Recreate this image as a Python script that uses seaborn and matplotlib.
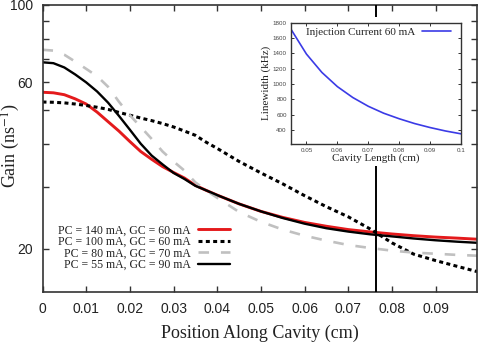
#!/usr/bin/env python3
"""
Gain profile along the cavity for four PC/GC current settings,
with an inset of linewidth vs cavity length.
"""
import pandas as pd
import matplotlib
matplotlib.use("Agg")
import matplotlib.pyplot as plt
import seaborn as sns
from matplotlib.patches import Rectangle
from matplotlib.ticker import FixedLocator, NullFormatter

# ---- main panel data ----
position = [0, 0.0025, 0.005, 0.0075, 0.01, 0.0125, 0.015, 0.0175, 0.02, 0.0225,
            0.025, 0.0275, 0.03, 0.0325, 0.035, 0.0375, 0.04, 0.045, 0.05, 0.055,
            0.06, 0.065, 0.07, 0.075, 0.08, 0.085, 0.09, 0.095, 0.0995]
gain_pc140_gc60 = [56.2, 56.0, 55.3, 53.8, 52.0, 49.3, 46.3, 43.5, 40.6, 38.0,
                   36.1, 34.4, 33.1, 31.9, 30.4, 29.4, 28.5, 26.9, 25.6, 24.6,
                   23.8, 23.2, 22.7, 22.35, 22.05, 21.8, 21.6, 21.45, 21.3]
gain_pc100_gc60 = [52.7, 52.6, 52.4, 52.0, 51.5, 50.9, 50.2, 49.2, 48.3, 47.4,
                   46.6, 45.7, 44.7, 43.5, 42.3, 40.4, 38.8, 35.6, 33.0, 30.7,
                   28.4, 26.4, 24.7, 22.8, 20.8, 19.3, 18.5, 17.8, 17.2]
gain_pc80_gc70 = [74.4, 74.0, 72.0, 68.8, 65.6, 62.5, 58.3, 52.8, 48.3, 44.7,
                  41.3, 38.0, 35.6, 33.5, 31.0, 29.4, 28.0, 25.5, 23.9, 22.7,
                  21.8, 21.1, 20.5, 20.1, 19.75, 19.5, 19.35, 19.2, 19.1]
gain_pc55_gc90 = [68.5, 68.1, 66.2, 63.2, 60.0, 56.5, 52.5, 48.1, 43.9, 40.0,
                  37.0, 34.9, 33.0, 31.7, 30.3, 29.4, 28.5, 26.9, 25.6, 24.5,
                  23.6, 22.9, 22.4, 22.0, 21.7, 21.4, 21.15, 20.95, 20.8]
series_labels = ["PC = 140 mA, GC = 60 mA", "PC = 100 mA, GC = 60 mA",
                 "PC = 80 mA, GC = 70 mA", "PC = 55 mA, GC = 90 mA"]
marker_position = 0.0764

x_ticks = [0, 0.01, 0.02, 0.03, 0.04, 0.05, 0.06, 0.07, 0.08, 0.09]
x_tick_labels = ["0", "0.01", "0.02", "0.03", "0.04", "0.05", "0.06", "0.07", "0.08", "0.09"]
y_ticks = [20, 60, 100]
y_minor_ticks = [30, 40, 50, 70, 80, 90]

# ---- inset data ----
cavity_length = [0.045, 0.05, 0.055, 0.06, 0.065, 0.07, 0.075, 0.08, 0.085, 0.09, 0.095, 0.1]
linewidth_khz = [1714, 1390, 1150, 965, 822, 708, 617, 545, 482, 430, 385, 348]
inset_x_ticks = [0.05, 0.06, 0.07, 0.08, 0.09, 0.1]
inset_x_labels = ["0.05", "0.06", "0.07", "0.08", "0.09", "0.1"]
inset_y_ticks = [400, 600, 800, 1000, 1200, 1400, 1600, 1800]

sns.set_style("ticks")
plt.rcParams["font.family"] = ["Liberation Sans", "DejaVu Sans"]
plt.rcParams["mathtext.fontset"] = "stix"

SERIF = ["Liberation Serif", "DejaVu Serif"]
AX_COLOR = "#333333"

fig = plt.figure(figsize=(4.78, 3.46), dpi=100)
ax = fig.add_axes([42.5 / 478, 1 - 292.3 / 346, (477 - 42.5) / 478, 287.3 / 346])

df = pd.DataFrame({"position": position})
styles = [
    (gain_pc140_gc60, dict(color="#e41a1c", lw=2.1, linestyle="-")),
    (gain_pc100_gc60, dict(color="black", lw=2.2, linestyle=(0, (1.3, 1.1)))),
    (gain_pc80_gc70, dict(color="#c0c0c0", lw=1.9, linestyle=(0, (4, 4.5)))),
    (gain_pc55_gc90, dict(color="black", lw=1.7, linestyle="-")),
]
for (vals, kw), lab in zip(styles, series_labels):
    sns.lineplot(x=df["position"], y=vals, ax=ax, label=lab, **kw)

ax.axvline(marker_position, color="black", lw=1.4, zorder=3)

ax.set_yscale("log")
ax.set_xlim(0, 0.0995)
ax.set_ylim(15, 100)
ax.set_xticks(x_ticks)
ax.set_xticklabels(x_tick_labels)
ax.set_yticks(y_ticks)
ax.set_yticklabels([str(t) for t in y_ticks])
ax.yaxis.set_minor_locator(FixedLocator(y_minor_ticks))
ax.yaxis.set_minor_formatter(NullFormatter())
ax.tick_params(which="both", direction="in", top=True, right=True, colors=AX_COLOR,
               labelcolor="#222222", labelsize=10, pad=7)
ax.tick_params(which="major", length=4, width=1)
ax.tick_params(which="minor", length=4, width=1)
for sp in ax.spines.values():
    sp.set_color(AX_COLOR)
    sp.set_linewidth(1.2)

ax.set_xlabel("Position Along Cavity (cm)", family=SERIF, fontsize=13, labelpad=6, color="#222222")
ax.set_ylabel("Gain (ns$^{-1}$)", family=SERIF, fontsize=13, color="#222222")
ax.yaxis.set_label_coords(-0.047, 0.51)

leg = ax.legend(loc="upper right", bbox_to_anchor=(0.4315, 0.236), frameon=False,
                markerfirst=False, borderpad=0, borderaxespad=0, labelspacing=-0.05,
                handlelength=2.7, handletextpad=0.6, prop={"family": SERIF, "size": 8.5})
for t in leg.get_texts():
    t.set_color("#222222")

# white panel behind the inset, hides the marker line there
fig.add_artist(Rectangle((255 / 478, 1 - 166 / 346), (466 - 255) / 478, (166 - 17) / 346,
                         transform=fig.transFigure, facecolor="white", edgecolor="none", zorder=1))

inset = fig.add_axes([291 / 478, 1 - 144 / 346, 170 / 478, 121.3 / 346])
inset.set_zorder(2)
sns.lineplot(x=cavity_length, y=linewidth_khz, ax=inset, color="#3b3be6", lw=1.2,
             label="Injection Current 60 mA")
inset.set_xlim(0.045, 0.1)
inset.set_ylim(215, 1800)
inset.set_xticks(inset_x_ticks)
inset.set_xticklabels(inset_x_labels)
inset.set_yticks(inset_y_ticks)
inset.set_yticklabels([str(t) for t in inset_y_ticks])
inset.tick_params(direction="in", top=True, right=True, length=2.5, width=0.7,
                  colors=AX_COLOR, labelcolor="#444444", labelsize=4.5, pad=3)
for sp in inset.spines.values():
    sp.set_color(AX_COLOR)
    sp.set_linewidth(1.0)
inset.set_xlabel("Cavity Length (cm)", family=SERIF, fontsize=8, labelpad=0.5, color="#222222")
inset.set_ylabel("Linewidth (kHz)", family=SERIF, fontsize=8, labelpad=1, color="#222222")
inset.legend(loc="upper right", bbox_to_anchor=(0.939, 0.962), frameon=False,
             markerfirst=False, borderpad=0, borderaxespad=0, handlelength=2.6,
             handletextpad=0.6, prop={"family": SERIF, "size": 8})

fig.savefig("out.png", dpi=100)
plt.close(fig)
